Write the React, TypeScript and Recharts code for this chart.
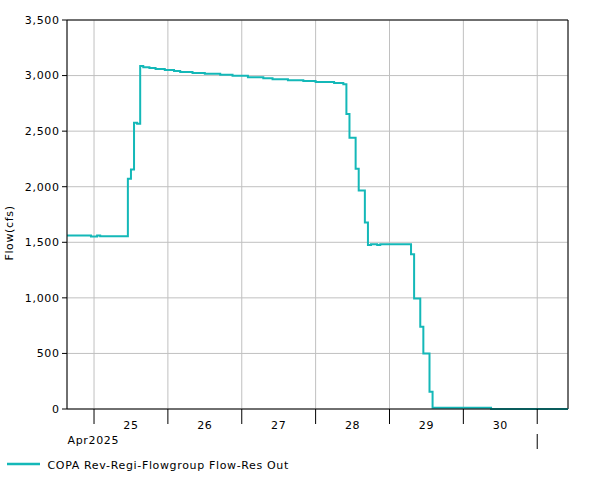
import React from 'react';
import { LineChart, Line, XAxis, YAxis, CartesianGrid, ReferenceLine } from 'recharts';

// Hours since Apr 25 2025 00:00 at which the flow changes (step series)
const hours = [-8.78, -1, 1, 2, 11, 12, 13, 14, 15, 16, 18, 20, 23, 26, 28, 32, 36, 41, 45, 50, 55, 58, 63, 68, 72, 78, 81, 82, 83, 85, 86, 88, 89, 90, 92, 93, 103, 104, 106, 107, 109, 110, 129, 154];
// Flow (cfs) from each change time on
const flows = [1560, 1551, 1562, 1554, 2072, 2155, 2575, 2566, 3085, 3075, 3068, 3059, 3050, 3041, 3032, 3023, 3017, 3008, 2999, 2984, 2975, 2966, 2957, 2952, 2943, 2934, 2921, 2655, 2440, 2161, 1966, 1677, 1475, 1482, 1476, 1482, 1392, 994, 739, 500, 155, 12, 0, 0];

const dayTicks = [0, 24, 48, 72, 96, 120, 144];
const dayLabels = ['25', '26', '27', '28', '29', '30'];
const monthLabel = 'Apr2025';
const yTicks = [0, 500, 1000, 1500, 2000, 2500, 3000, 3500];
const seriesName = 'COPA Rev-Regi-Flowgroup Flow-Res Out';
const yLabel = 'Flow(cfs)';

const X_MIN = -8.78;
const X_MAX = 154;

const data = hours.map((t, i) => ({ t, flow: flows[i] }));

const FONT = '"DejaVu Sans", Verdana, sans-serif';
const TEXT_STYLE = { letterSpacing: '0.65px' };
const COLOR = '#14b8b8';

const W = 601;
const H = 480;
const M = { top: 20, right: 33, bottom: 0, left: 7 };
const Y_AXIS_W = 60;
const X_AXIS_H = 71;
const PLOT_W = W - M.left - M.right - Y_AXIS_W;
const HALF_DAY_PX = (PLOT_W / (X_MAX - X_MIN)) * 12;

const DayTick = (props: any) => {
  const { x, y, payload } = props;
  const idx = dayTicks.indexOf(payload.value);
  return (
    <g>
      <line x1={x} x2={x} y1={y} y2={y + 15} stroke="#000" strokeWidth={1} />
      {idx >= 0 && idx < dayLabels.length && (
        <text x={x + HALF_DAY_PX} y={y + 19.5} textAnchor="middle" fontSize={11} fontFamily={FONT} fill="#000" style={TEXT_STYLE}>
          {dayLabels[idx]}
        </text>
      )}
      {idx === 0 && (
        <text x={x - 26.5} y={y + 34.5} textAnchor="start" fontSize={11} fontFamily={FONT} fill="#000" style={TEXT_STYLE}>
          {monthLabel}
        </text>
      )}
      {idx === dayTicks.length - 1 && (
        <line x1={x} x2={x} y1={y + 25} y2={y + 40} stroke="#000" strokeWidth={1} />
      )}
    </g>
  );
};

const FlowTick = (props: any) => {
  const { x, y, payload } = props;
  return (
    <text x={x + 0.6} y={y} dy="0.355em" textAnchor="end" fontSize={11} fontFamily={FONT} fill="#000" style={TEXT_STYLE}>
      {Number(payload.value).toLocaleString('en-US')}
    </text>
  );
};

export default function App() {
  return (
    <div style={{ position: 'absolute', left: 0, top: 0, width: W, height: H, background: '#fff' }}>
      <LineChart width={W} height={H} data={data} margin={M}>
        <CartesianGrid stroke="#c0c0c0" strokeWidth={1} />
        <XAxis
          type="number"
          dataKey="t"
          domain={[X_MIN, X_MAX]}
          ticks={dayTicks}
          interval={0}
          allowDataOverflow
          height={X_AXIS_H}
          tickSize={0}
          tickMargin={0}
          tickLine={false}
          axisLine={{ stroke: '#000', strokeWidth: 1 }}
          tick={<DayTick />}
        />
        <YAxis
          type="number"
          domain={[0, 3500]}
          ticks={yTicks}
          interval={0}
          width={Y_AXIS_W}
          tickSize={5}
          tickMargin={3}
          axisLine={{ stroke: '#000', strokeWidth: 1 }}
          tickLine={{ stroke: '#000', strokeWidth: 1 }}
          tick={<FlowTick />}
        />
        <ReferenceLine y={3500} stroke="#000" strokeWidth={1} />
        <ReferenceLine x={X_MAX} stroke="#000" strokeWidth={1} />
        <Line
          type="stepAfter"
          dataKey="flow"
          stroke={COLOR}
          strokeWidth={2}
          dot={false}
          activeDot={false}
          isAnimationActive={false}
        />
      </LineChart>
      <svg width={W} height={H} style={{ position: 'absolute', left: 0, top: 0, pointerEvents: 'none' }}>
        <text
          transform="translate(12.5,233) rotate(-90)"
          textAnchor="middle"
          fontSize={11}
          fontFamily={FONT}
          fill="#000"
          style={TEXT_STYLE}
        >
          {yLabel}
        </text>
        <line x1={7} x2={40} y1={464} y2={464} stroke={COLOR} strokeWidth={2.5} />
        <text x={47.5} y={468.5} fontSize={11} fontFamily={FONT} fill="#000" style={TEXT_STYLE}>
          {seriesName}
        </text>
      </svg>
    </div>
  );
}
